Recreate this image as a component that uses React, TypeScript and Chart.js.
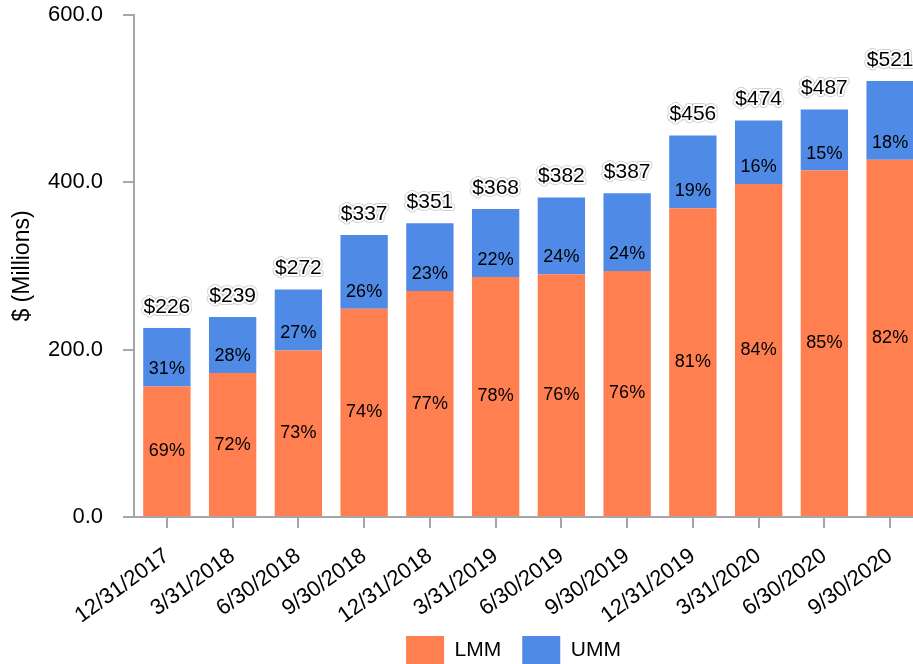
// Stacked bar chart of LMM / UMM split with totals above each bar
import { useEffect, useRef } from 'react';
import { Chart, registerables } from 'chart.js';

Chart.register(...registerables);

const quarters = [
	'12/31/2017',
	'3/31/2018',
	'6/30/2018',
	'9/30/2018',
	'12/31/2018',
	'3/31/2019',
	'6/30/2019',
	'9/30/2019',
	'12/31/2019',
	'3/31/2020',
	'6/30/2020',
	'9/30/2020',
];
const lmmValues = [156, 172, 199, 249, 270, 287, 290, 294, 369, 398, 414, 427];
const ummValues = [70, 67, 73, 88, 81, 81, 92, 93, 87, 76, 73, 94];
const lmmPct = ['69%', '72%', '73%', '74%', '77%', '78%', '76%', '76%', '81%', '84%', '85%', '82%'];
const ummPct = ['31%', '28%', '27%', '26%', '23%', '22%', '24%', '24%', '19%', '16%', '15%', '18%'];
const totals = ['$226', '$239', '$272', '$337', '$351', '$368', '$382', '$387', '$456', '$474', '$487', '$521'];

const FONT = "'Liberation Sans', Arial, sans-serif";
const AXIS_GREY = '#a6a6a6';

// Draws the percentage labels inside the segments and the totals on top
const barLabels = {
	id: 'barLabels',
	afterDatasetsDraw(chart: Chart) {
		const ctx = chart.ctx;
		const lmmMeta = chart.getDatasetMeta(0);
		const ummMeta = chart.getDatasetMeta(1);
		ctx.save();
		ctx.textAlign = 'center';
		ctx.textBaseline = 'middle';
		ctx.fillStyle = '#000';

		ctx.font = `18px ${FONT}`;
		lmmMeta.data.forEach((bar: any, i: number) => {
			ctx.fillText(lmmPct[i], bar.x, (bar.y + bar.base) / 2);
		});
		ummMeta.data.forEach((bar: any, i: number) => {
			ctx.fillText(ummPct[i], bar.x, bar.base - 17);
		});

		// totals with a white halo
		ctx.font = `21px ${FONT}`;
		ctx.lineJoin = 'round';
		ummMeta.data.forEach((bar: any, i: number) => {
			const y = bar.y - 21;
			ctx.strokeStyle = 'rgba(0,0,0,0.18)';
			ctx.lineWidth = 6;
			ctx.strokeText(totals[i], bar.x, y);
			ctx.strokeStyle = '#fff';
			ctx.lineWidth = 4;
			ctx.strokeText(totals[i], bar.x, y);
			ctx.fillStyle = '#000';
			ctx.fillText(totals[i], bar.x, y);
		});
		ctx.restore();
	},
};

// Moves the legend under the middle of the plot and lets the rotated
// x labels run into the legend band without being clipped
const layoutTweaks = {
	id: 'layoutTweaks',
	afterLayout(chart: any) {
		if (chart.legend) {
			chart.legend.left += 52;
			chart.legend.right += 52;
		}
		if (chart.scales.x) {
			chart.scales.x.bottom += 30;
		}
	},
};

export default function App() {
	const canvasRef = useRef<HTMLCanvasElement>(null);

	useEffect(() => {
		if (!canvasRef.current) return;
		const ctx = canvasRef.current.getContext('2d');
		if (!ctx) return;

		const chart = new Chart(ctx, {
			type: 'bar',
			data: {
				labels: quarters,
				datasets: [
					{
						label: 'LMM',
						data: lmmValues,
						backgroundColor: '#ff7f50',
						barPercentage: 0.72,
						categoryPercentage: 1,
					},
					{
						label: 'UMM',
						data: ummValues,
						backgroundColor: '#4f8be6',
						barPercentage: 0.72,
						categoryPercentage: 1,
					},
				],
			},
			options: {
				responsive: false,
				animation: false,
				devicePixelRatio: 1,
				layout: {
					padding: { top: 0, left: 0, right: 0, bottom: 0 },
				},
				plugins: {
					legend: {
						position: 'bottom',
						labels: {
							boxWidth: 38,
							boxHeight: 28,
							padding: 21,
							color: '#000',
							font: { family: FONT, size: 21 },
						},
					},
					tooltip: { enabled: false },
				},
				scales: {
					x: {
						stacked: true,
						grid: {
							offset: false,
							drawOnChartArea: false,
							drawTicks: true,
							tickLength: 11,
							color: AXIS_GREY,
							lineWidth: 2,
						},
						border: { display: true, color: AXIS_GREY, width: 2 },
						ticks: {
							color: '#000',
							font: { family: FONT, size: 22 },
							minRotation: 36,
							maxRotation: 36,
							padding: 15,
							autoSkip: false,
						},
						afterFit: (scale: any) => {
							scale.height = 98;
						},
					},
					y: {
						stacked: true,
						min: 0,
						max: 600,
						grid: {
							drawOnChartArea: false,
							drawTicks: true,
							tickLength: 11,
							color: AXIS_GREY,
							lineWidth: 2,
						},
						border: { display: true, color: AXIS_GREY, width: 2 },
						ticks: {
							stepSize: 200,
							color: '#000',
							padding: 20,
							font: { family: FONT, size: 22 },
							callback: (v: any) => Number(v).toFixed(1),
						},
						title: {
							display: true,
							text: '$ (Millions)',
							color: '#000',
							font: { family: FONT, size: 23 },
							padding: { top: 9, bottom: 0 },
						},
						afterFit: (scale: any) => {
							scale.width = 134;
							scale.paddingTop = 15;
							scale.paddingBottom = 0;
						},
					},
				},
			},
			plugins: [barLabels, layoutTweaks],
		});

		return () => {
			chart.destroy();
		};
	}, []);

	return (
		<div
			style={{
				position: 'fixed',
				top: 0,
				left: 0,
				width: '913px',
				height: '664px',
				overflow: 'hidden',
				background: '#fff',
			}}
		>
			<canvas ref={canvasRef} width={923} height={674} style={{ display: 'block' }}></canvas>
		</div>
	);
}
